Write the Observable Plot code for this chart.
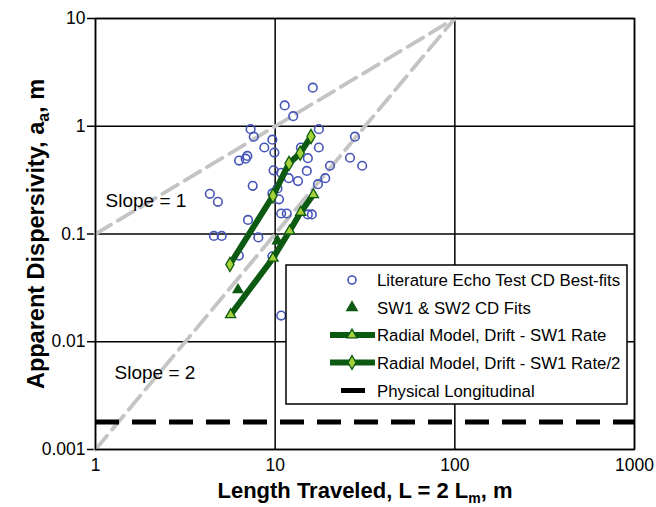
<!DOCTYPE html>
<html><head><meta charset="utf-8">
<script src="https://cdn.jsdelivr.net/npm/d3@7"></script>
<script src="https://cdn.jsdelivr.net/npm/@observablehq/plot@0.6"></script>
<style>body{margin:0;background:#fff;} svg{display:block;}</style>
</head><body><div id="chart"></div>
<script>
// Literature echo test CD best-fits (hollow blue circles)
const litX = [16.2, 11.3, 12.6, 7.3, 17.5, 7.6, 9.65, 27.8, 8.7, 9.9, 17.5, 13.9, 7.0, 6.85, 6.3, 15.2, 26.1, 30.5, 20.2, 9.8, 10.8, 15.0, 11.9, 13.4, 19.0, 17.3, 7.5, 10.3, 9.65, 4.33, 4.8, 10.5, 10.8, 11.6, 15.2, 16.0, 7.06, 4.56, 5.04, 8.06, 6.28, 9.65, 10.8];
const litY = [2.28, 1.56, 1.24, 0.94, 0.94, 0.80, 0.75, 0.80, 0.635, 0.57, 0.635, 0.635, 0.53, 0.50, 0.48, 0.505, 0.51, 0.43, 0.43, 0.39, 0.37, 0.385, 0.33, 0.31, 0.33, 0.29, 0.28, 0.265, 0.238, 0.236, 0.199, 0.21, 0.155, 0.155, 0.152, 0.152, 0.135, 0.096, 0.096, 0.093, 0.063, 0.062, 0.0175];
// SW1 & SW2 CD fits
const swX = [6.21, 10.3];
const swY = [0.0303, 0.0861];
// Radial model, drift - SW1 rate
const rateX = [5.65, 9.72, 12.04, 13.87, 16.32];
const rateY = [0.0178, 0.0596, 0.1066, 0.159, 0.232];
// Radial model, drift - SW1 rate/2
const rate2X = [5.60, 9.72, 11.94, 13.78, 15.83];
const rate2Y = [0.0522, 0.226, 0.452, 0.562, 0.803];
// Reference slopes
const slope1X = [1, 100], slope1Y = [0.1, 10];
const slope2X = [1, 100], slope2Y = [0.001, 10];
// Physical longitudinal dispersivity
const physY = [0.0018];
// Ticks
const xTicks = [1, 10, 100, 1000];
const yTicks = [0.001, 0.01, 0.1, 1, 10];
// Annotations
const slopeLabels = ["Slope = 1", "Slope = 2"];
const slopeLabelX = [1.137, 1.276];
const slopeLabelY = [0.201, 0.0051];
const legendLabels = ["Literature Echo Test CD Best-fits", "SW1 & SW2 CD Fits", "Radial Model, Drift - SW1 Rate", "Radial Model, Drift - SW1 Rate/2", "Physical Longitudinal"];

const zip = (xs, ys) => xs.map((x, i) => ({x, y: ys[i]}));
const GREEN = "#0c5a12", LIGHT = "#a4d03a", BLUE = "#4655b8", GRAY = "#c4c4c4";
const FONT = "'Liberation Sans', Arial, Helvetica, sans-serif";

const plot = Plot.plot({
  width: 656, height: 507,
  marginLeft: 95, marginRight: 22, marginTop: 18, marginBottom: 58,
  style: {fontFamily: FONT, background: "#fff", overflow: "visible", color: "#000"},
  x: {type: "log", domain: [1, 1000], label: null},
  y: {type: "log", domain: [0.001, 10], label: null},
  marks: [
    Plot.gridX(xTicks, {stroke: "#000", strokeOpacity: 1, strokeWidth: 1.5}),
    Plot.gridY(yTicks, {stroke: "#000", strokeOpacity: 1, strokeWidth: 1.5}),
    Plot.axisX(xTicks, {tickSize: 0, tickPadding: 9, fontSize: 17.5, tickFormat: d => String(d), label: null}),
    Plot.axisY(yTicks, {tickSize: 8, tickPadding: 2, fontSize: 17.5, strokeWidth: 1.5, tickFormat: d => String(d), label: null}),
    Plot.line(zip(slope1X, slope1Y), {x: "x", y: "y", stroke: GRAY, strokeWidth: 3.8, strokeDasharray: "18,8"}),
    Plot.line(zip(slope2X, slope2Y), {x: "x", y: "y", stroke: GRAY, strokeWidth: 3.8, strokeDasharray: "18,8"}),
    Plot.ruleY(physY, {stroke: "#000", strokeWidth: 5, strokeDasharray: "24,13"}),
    Plot.dot(zip(litX, litY), {x: "x", y: "y", r: 4.3, stroke: BLUE, strokeWidth: 1.6, fill: "none"}),
    Plot.dot(zip(swX, swY), {x: "x", y: "y", symbol: "triangle", r: 4.5, fill: GREEN, stroke: "none"}),
    Plot.line(zip(rateX, rateY), {x: "x", y: "y", stroke: GREEN, strokeWidth: 6}),
    Plot.dot(zip(rateX, rateY), {x: "x", y: "y", symbol: "triangle", r: 3.8, fill: LIGHT, stroke: GREEN, strokeWidth: 1.3}),
    Plot.line(zip(rate2X, rate2Y), {x: "x", y: "y", stroke: GREEN, strokeWidth: 6}),
    Plot.dot(zip(rate2X, rate2Y), {x: "x", y: "y", symbol: "diamond", r: 4.3, fill: LIGHT, stroke: GREEN, strokeWidth: 1.3}),
    Plot.text(slopeLabels, {x: (d, i) => slopeLabelX[i], y: (d, i) => slopeLabelY[i], text: d => d, textAnchor: "start", fontSize: 19, fill: "#000"}),
    Plot.frame({stroke: "#000", strokeWidth: 1.5})
  ]
});

const svg = d3.select(plot);
// Axis titles
const xt = svg.append("text").attr("x", 365).attr("y", 498).attr("text-anchor", "middle")
  .attr("font-family", FONT).attr("font-weight", "bold").attr("font-size", 22).attr("fill", "#000");
xt.append("tspan").text("Length Traveled, L = 2 L");
xt.append("tspan").attr("font-size", 14).attr("dy", 5).text("m");
xt.append("tspan").attr("dy", -5).text(", m");

const yt = svg.append("text").attr("transform", "translate(44,234) rotate(-90)").attr("text-anchor", "middle")
  .attr("font-family", FONT).attr("font-weight", "bold").attr("font-size", 23.5).attr("fill", "#000");
yt.append("tspan").text("Apparent Dispersivity, a");
yt.append("tspan").attr("font-size", 16).attr("dy", 5).text("a");
yt.append("tspan").attr("dy", -5).text(", m");

// Legend
const lg = svg.append("g").attr("font-family", FONT).attr("font-size", 16.8).attr("text-anchor", "start");
lg.append("rect").attr("x", 286).attr("y", 265).attr("width", 341).attr("height", 139)
  .attr("fill", "#fff").attr("stroke", "#000").attr("stroke-width", 1.5);
const rowY = [280, 307.5, 335, 362.5, 390.5];
const mx = 352;
// row 0: hollow circle
lg.append("circle").attr("cx", mx).attr("cy", rowY[0]).attr("r", 4).attr("fill", "none").attr("stroke", BLUE).attr("stroke-width", 1.6);
// row 1: dark triangle
lg.append("path").attr("d", d3.symbol(d3.symbolTriangle, 70)()).attr("transform", `translate(${mx},${rowY[1]})`).attr("fill", GREEN);
// row 2: line + light triangle
lg.append("line").attr("x1", 330).attr("x2", 375).attr("y1", rowY[2]).attr("y2", rowY[2]).attr("stroke", GREEN).attr("stroke-width", 6);
lg.append("path").attr("d", d3.symbol(d3.symbolTriangle, 45)()).attr("transform", `translate(${mx},${rowY[2]})`).attr("fill", LIGHT).attr("stroke", GREEN).attr("stroke-width", 1.3);
// row 3: line + diamond
lg.append("line").attr("x1", 330).attr("x2", 375).attr("y1", rowY[3]).attr("y2", rowY[3]).attr("stroke", GREEN).attr("stroke-width", 6);
lg.append("path").attr("d", d3.symbol(d3.symbolDiamond, 55)()).attr("transform", `translate(${mx},${rowY[3]})`).attr("fill", LIGHT).attr("stroke", GREEN).attr("stroke-width", 1.3);
// row 4: thick black dash
lg.append("line").attr("x1", 341).attr("x2", 365).attr("y1", rowY[4]).attr("y2", rowY[4]).attr("stroke", "#000").attr("stroke-width", 5);
legendLabels.forEach((t, i) => {
  lg.append("text").attr("x", 377).attr("y", rowY[i]).attr("dy", "0.36em").attr("fill", "#000").text(t);
});

document.getElementById("chart").appendChild(plot);
</script>
</body></html>
